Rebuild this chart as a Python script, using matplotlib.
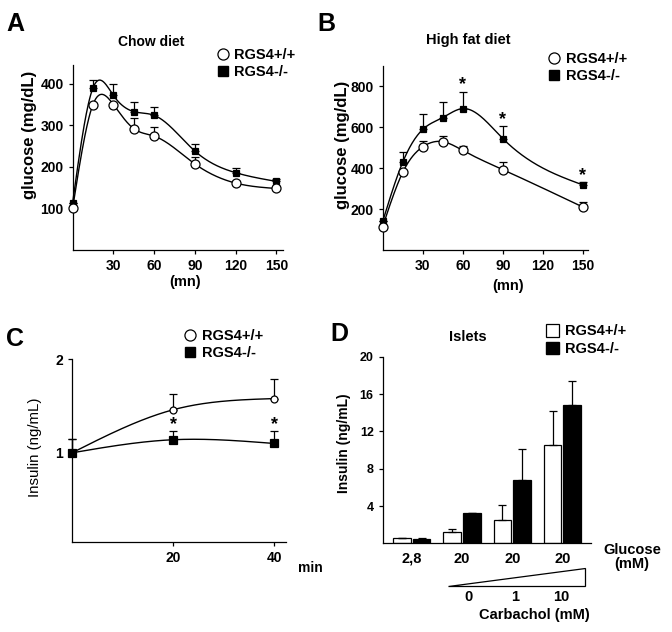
import numpy as np
import matplotlib
matplotlib.use('Agg')
import matplotlib.pyplot as plt
import matplotlib.transforms as mtransforms
from matplotlib.lines import Line2D
from matplotlib.patches import Patch, Polygon

plt.rcParams['font.family'] = ['Liberation Sans', 'DejaVu Sans']
plt.rcParams['font.weight'] = 'bold'
plt.rcParams['axes.labelweight'] = 'bold'
plt.rcParams['axes.linewidth'] = 0.9
plt.rcParams['xtick.major.width'] = 0.9
plt.rcParams['ytick.major.width'] = 0.9
plt.rcParams['xtick.major.size'] = 3
plt.rcParams['ytick.major.size'] = 3

# ---- data ----
# A: glucose tolerance, chow diet
time_a = [0, 15, 30, 45, 60, 90, 120, 150]
chow_wt = [100, 350, 350, 292, 274, 207, 161, 148]
chow_wt_err = [0, 0, 0, 25, 21, 16, 6, 5]
chow_ko = [113, 390, 372, 333, 324, 238, 186, 165]
chow_ko_err = [0, 18, 28, 24, 19, 18, 12, 5]

# B: glucose tolerance, high fat diet
time_b = [0, 15, 30, 45, 60, 90, 150]
hfd_wt = [115, 380, 505, 530, 487, 393, 210]
hfd_wt_err = [0, 0, 30, 30, 23, 37, 25]
hfd_ko = [140, 430, 590, 648, 692, 545, 318]
hfd_ko_err = [0, 48, 75, 77, 83, 62, 14]
hfd_signif = [60, 90, 150]

# C: plasma insulin
time_c = [0, 20, 40]
ins_wt = [1.0, 1.46, 1.58]
ins_wt_err = [0.15, 0.17, 0.21]
ins_ko = [1.0, 1.14, 1.10]
ins_ko_err = [0.15, 0.09, 0.13]
ins_signif = [20, 40]

# D: islets
glucose_labels = ['2,8', '20', '20', '20']
carbachol_labels = ['0', '1', '10']
islet_wt = [0.6, 1.2, 2.5, 10.5]
islet_wt_err = [0, 0.3, 1.6, 3.7]
islet_ko = [0.5, 3.3, 6.8, 14.8]
islet_ko_err = [0.1, 0, 3.3, 2.6]

labels = ['RGS4+/+', 'RGS4-/-']


def smooth(x, y, n=300):
    # natural cubic spline through the points, for drawing the curve
    x = np.asarray(x, float)
    y = np.asarray(y, float)
    h = np.diff(x)
    m = len(x)
    A = np.zeros((m, m))
    r = np.zeros(m)
    A[0, 0] = A[-1, -1] = 1
    for i in range(1, m - 1):
        A[i, i - 1] = h[i - 1]
        A[i, i] = 2 * (h[i - 1] + h[i])
        A[i, i + 1] = h[i]
        r[i] = 3 * ((y[i + 1] - y[i]) / h[i] - (y[i] - y[i - 1]) / h[i - 1])
    c = np.linalg.solve(A, r)
    b = (y[1:] - y[:-1]) / h - h * (2 * c[:-1] + c[1:]) / 3
    d = (c[1:] - c[:-1]) / (3 * h)
    xs = np.linspace(x[0], x[-1], n)
    idx = np.clip(np.searchsorted(x, xs) - 1, 0, m - 2)
    dx = xs - x[idx]
    return xs, y[idx] + b[idx] * dx + c[idx] * dx ** 2 + d[idx] * dx ** 3


def style(ax):
    ax.spines['top'].set_visible(False)
    ax.spines['right'].set_visible(False)
    ax.tick_params(labelsize=10)


def curve(ax, x, y, err, marker, ms, mfc):
    xs, ys = smooth(x, y)
    ax.plot(xs, ys, color='k', lw=1.0, clip_on=False, zorder=2)
    ax.errorbar(x, y, yerr=[np.zeros(len(err)), err], fmt='none', ecolor='k',
                elinewidth=0.9, capsize=3, capthick=0.9, clip_on=False, zorder=1)
    ax.plot(x, y, ls='none', marker=marker, ms=ms, mfc=mfc, mec='k', mew=0.9,
            clip_on=False, zorder=3)


def stars(ax, xs, x, y, err):
    for xi in xs:
        i = list(x).index(xi)
        ax.annotate('*', (xi, y[i] + err[i]), xytext=(0, 1.5), textcoords='offset points',
                    ha='center', va='baseline', fontsize=13)


def marker_legend(ax, anchor, ms_o=8, ms_s=7):
    handles = [Line2D([], [], ls='none', marker='o', ms=ms_o, mfc='white', mec='k', mew=0.9),
               Line2D([], [], ls='none', marker='s', ms=ms_s, mfc='k', mec='k')]
    ax.legend(handles, labels, loc='upper left', bbox_to_anchor=anchor,
              bbox_transform=fig.transFigure, frameon=False, fontsize=10.5,
              handlelength=1.0, handletextpad=0.3, labelspacing=0.2,
              borderpad=0, borderaxespad=0)


fig = plt.figure(figsize=(6.72, 6.32), dpi=100)

# ---- A ----
axA = fig.add_axes([0.108, 0.6044, 0.3135, 0.2927])
style(axA)
curve(axA, time_a, chow_ko, chow_ko_err, 's', 4.5, 'k')
curve(axA, time_a, chow_wt, chow_wt_err, 'o', 6.5, 'white')
axA.set_xlim(0, 155)
axA.set_ylim(0, 445)
axA.set_xticks([30, 60, 90, 120, 150])
axA.set_yticks([100, 200, 300, 400])
axA.set_ylabel('glucose (mg/dL)', fontsize=12)
axA.yaxis.set_label_coords(-0.17, 0.62)
axA.set_xlabel('(mn)', fontsize=10.5)
axA.xaxis.set_label_coords(0.533, -0.134)
axA.text(0.375, 1.126, 'Chow diet', transform=axA.transAxes, ha='center', va='center', fontsize=10)
marker_legend(axA, (0.3205, 0.9245))

# ---- B ----
axB = fig.add_axes([0.5695, 0.6044, 0.306, 0.2911])
style(axB)
curve(axB, time_b, hfd_ko, hfd_ko_err, 's', 5, 'k')
curve(axB, time_b, hfd_wt, hfd_wt_err, 'o', 6.5, 'white')
stars(axB, hfd_signif, time_b, hfd_ko, hfd_ko_err)
axB.set_xlim(0, 154)
axB.set_ylim(0, 900)
axB.set_xticks([30, 60, 90, 120, 150])
axB.set_yticks([200, 400, 600, 800])
axB.set_ylabel('glucose (mg/dL)', fontsize=12)
axB.yaxis.set_label_coords(-0.159, 0.57)
axB.set_xlabel('(mn)', fontsize=10.5)
axB.xaxis.set_label_coords(0.608, -0.158)
axB.text(0.418, 1.141, 'High fat diet', transform=axB.transAxes, ha='center', va='center', fontsize=10.5)
marker_legend(axB, (0.814, 0.9177))

# ---- C ----
axC = fig.add_axes([0.1071, 0.1429, 0.318, 0.2886])
style(axC)
curve(axC, time_c, ins_wt, ins_wt_err, 'o', 5, 'white')
curve(axC, time_c, ins_ko, ins_ko_err, 's', 5.5, 'k')
stars(axC, ins_signif, time_c, ins_ko, ins_ko_err)
axC.set_xlim(0, 42.3)
axC.set_ylim(0.05, 2)
axC.set_xticks([20, 40])
axC.set_yticks([1, 2])
axC.set_ylabel('Insulin (ng/mL)', fontsize=10.8, fontweight='normal')
axC.yaxis.set_label_coords(-0.14, 0.516)
axC.text(1.114, -0.144, 'min', transform=axC.transAxes, ha='center', va='center', fontsize=10)
marker_legend(axC, (0.2719, 0.4799))

# ---- D ----
axD = fig.add_axes([0.5695, 0.1403, 0.31, 0.2953])
style(axD)
pos = np.arange(len(glucose_labels))
w = 0.35
axD.bar(pos - 0.196, islet_wt, w, color='white', edgecolor='k', lw=0.9,
        yerr=[np.zeros(4), islet_wt_err], capsize=3,
        error_kw=dict(elinewidth=0.9, capthick=0.9, ecolor='k'))
axD.bar(pos + 0.196, islet_ko, w, color='k', edgecolor='k', lw=0.9,
        yerr=[np.zeros(4), islet_ko_err], capsize=3,
        error_kw=dict(elinewidth=0.9, capthick=0.9, ecolor='k'))
axD.set_xlim(-0.58, 3.57)
axD.set_ylim(0, 20)
axD.set_yticks([4, 8, 12, 16, 20])
axD.tick_params(axis='y', labelsize=9)
axD.set_xticks(pos, glucose_labels)
axD.tick_params(axis='x', length=0, pad=6, labelsize=10.5)
axD.set_ylabel('Insulin (ng/mL)', fontsize=10)
axD.yaxis.set_label_coords(-0.15, 0.535)
axD.text(0.408, 1.107, 'Islets', transform=axD.transAxes, ha='center', va='center', fontsize=10.5)
tr = mtransforms.blended_transform_factory(axD.transData, axD.transAxes)
axD.text(4.39, -0.073, 'Glucose\n(mM)', transform=tr, ha='center', va='center',
         fontsize=10.5, linespacing=1.0)
axD.add_patch(Polygon([(0.727, -0.229), (3.448, -0.229), (3.448, -0.131)], closed=True,
                      facecolor='white', edgecolor='k', lw=0.9, transform=tr, clip_on=False))
for xi, lab in zip([1.125, 2.055, 2.985], carbachol_labels):
    axD.text(xi, -0.289, lab, transform=tr, ha='center', va='center', fontsize=10.5)
axD.text(2.433, -0.384, 'Carbachol (mM)', transform=tr, ha='center', va='center', fontsize=10.5)
handles = [Patch(facecolor='white', edgecolor='k', lw=0.9), Patch(facecolor='k', edgecolor='k')]
axD.legend(handles, labels, loc='upper left', bbox_to_anchor=(0.8125, 0.4867),
           bbox_transform=fig.transFigure, frameon=False, fontsize=10.5,
           handlelength=0.9, handleheight=0.9, handletextpad=0.4, labelspacing=0.25,
           borderpad=0, borderaxespad=0)

# panel letters
for x, y, s in [(15, 24, 'A'), (326, 24, 'B'), (15, 339, 'C'), (339, 334, 'D')]:
    fig.text(x / 672, 1 - y / 632, s, ha='center', va='center', fontsize=18, fontweight='bold')

fig.savefig('out.png', dpi=100)
